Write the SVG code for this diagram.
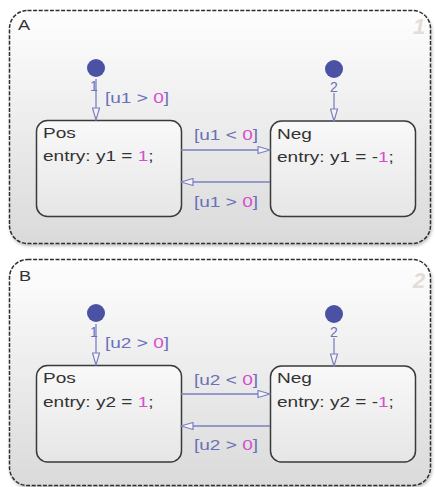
<svg xmlns="http://www.w3.org/2000/svg" width="435" height="487" viewBox="0 0 435 487">
<style>
.sup{stroke:#2e2e2e;stroke-width:1.5;stroke-dasharray:4 1.6;fill:url(#gs)}
.st{stroke:#3a3a3a;stroke-width:1.5;fill:url(#gt)}
.t{font-family:"Liberation Sans",Arial,sans-serif;font-size:14px;fill:#333}
.lb{font-family:"Liberation Sans",Arial,sans-serif;font-size:14px;fill:#6b70b8}
.num{font-family:"Liberation Sans",Arial,sans-serif;font-size:14px;fill:#6b70b8;text-anchor:middle}
.m{fill:#d64fce}
.big{font-family:"Liberation Sans",Arial,sans-serif;font-size:22px;font-style:italic;font-weight:bold;fill:#e2ded6}
.tr{stroke:#7a80c2;stroke-width:1.3;fill:none;marker-end:url(#ah)}
.dot{fill:#4b51a3}
</style>
<defs>
<linearGradient id="gs" x1="0" y1="0" x2="0" y2="1"><stop offset="0" stop-color="#fefefe"/><stop offset="1" stop-color="#dadada"/></linearGradient>
<linearGradient id="gt" x1="0" y1="0" x2="0" y2="1"><stop offset="0" stop-color="#f9f9f9"/><stop offset="1" stop-color="#e6e6e6"/></linearGradient>
<filter id="sh" x="-5%" y="-5%" width="110%" height="115%"><feDropShadow dx="1" dy="2" stdDeviation="1.5" flood-color="#000" flood-opacity="0.25"/></filter>
<marker id="ah" markerWidth="14" markerHeight="9" refX="13" refY="4.5" orient="auto" markerUnits="userSpaceOnUse"><path d="M1,1 L13,4.5 L1,8 Z" fill="#f4f4f8" stroke="#7a80c2" stroke-width="1.2"/></marker>
</defs>
<rect width="435" height="487" fill="#ffffff"/>
<g id="A">
<rect class="sup" x="9.5" y="10.5" width="421" height="233" rx="18" filter="url(#sh)"/>
<text class="t" transform="translate(18,30) scale(1.3,1)">A</text>
<text class="big" x="413" y="34">1</text>
</g>
<g id="B">
<rect class="sup" x="9.5" y="259.5" width="421" height="226" rx="18" filter="url(#sh)"/>
<text class="t" transform="translate(19,281) scale(1.3,1)">B</text>
<text class="big" x="413" y="288">2</text>
</g>
<g id="A_Pos">
<rect class="st" x="36.5" y="120.5" width="145" height="96" rx="11"/>
<text class="t" transform="translate(43,138) scale(1.36,1)">Pos</text>
<text class="t" transform="translate(43,161) scale(1.36,1)">entry: y1 = <tspan class="m">1</tspan>;</text>
</g>
<g id="A_Neg">
<rect class="st" x="270.5" y="121" width="145" height="95.5" rx="11"/>
<text class="t" transform="translate(277,139) scale(1.36,1)">Neg</text>
<text class="t" transform="translate(277,162) scale(1.36,1)">entry: y1 = -<tspan class="m">1</tspan>;</text>
</g>
<g id="B_Pos">
<rect class="st" x="36.5" y="365.5" width="145" height="96.5" rx="11"/>
<text class="t" transform="translate(43,383) scale(1.36,1)">Pos</text>
<text class="t" transform="translate(43,407) scale(1.36,1)">entry: y2 = <tspan class="m">1</tspan>;</text>
</g>
<g id="B_Neg">
<rect class="st" x="270.5" y="366" width="145" height="96" rx="11"/>
<text class="t" transform="translate(277,383) scale(1.36,1)">Neg</text>
<text class="t" transform="translate(277,407) scale(1.36,1)">entry: y2 = -<tspan class="m">1</tspan>;</text>
</g>
<g id="A_init1"><circle class="dot" cx="96" cy="68" r="9"/></g>
<g id="A_init2"><circle class="dot" cx="334" cy="69" r="9"/></g>
<g id="B_init1"><circle class="dot" cx="96" cy="313" r="9"/></g>
<g id="B_init2"><circle class="dot" cx="334" cy="314" r="9"/></g>
<g id="connectors">
<path class="tr" d="M96,79 V120"/>
<text class="num" x="94" y="91">1</text>
<text class="lb" transform="translate(105,103) scale(1.36,1)">[u1 &gt; <tspan class="m">0</tspan>]</text>
<path class="tr" d="M334,93 V121"/>
<text class="num" x="334" y="92">2</text>
<path class="tr" d="M181,150 H270"/>
<text class="lb" transform="translate(194,140) scale(1.36,1)">[u1 &lt; <tspan class="m">0</tspan>]</text>
<path class="tr" d="M270,182 H181"/>
<text class="lb" transform="translate(194,207) scale(1.36,1)">[u1 &gt; <tspan class="m">0</tspan>]</text>
<path class="tr" d="M96,324 V365"/>
<text class="num" x="94" y="337">1</text>
<text class="lb" transform="translate(105,348) scale(1.36,1)">[u2 &gt; <tspan class="m">0</tspan>]</text>
<path class="tr" d="M334,338 V366"/>
<text class="num" x="334" y="337">2</text>
<path class="tr" d="M181,394 H270"/>
<text class="lb" transform="translate(194,385) scale(1.36,1)">[u2 &lt; <tspan class="m">0</tspan>]</text>
<path class="tr" d="M270,426 H181"/>
<text class="lb" transform="translate(194,450) scale(1.36,1)">[u2 &gt; <tspan class="m">0</tspan>]</text>
</g>
</svg>
